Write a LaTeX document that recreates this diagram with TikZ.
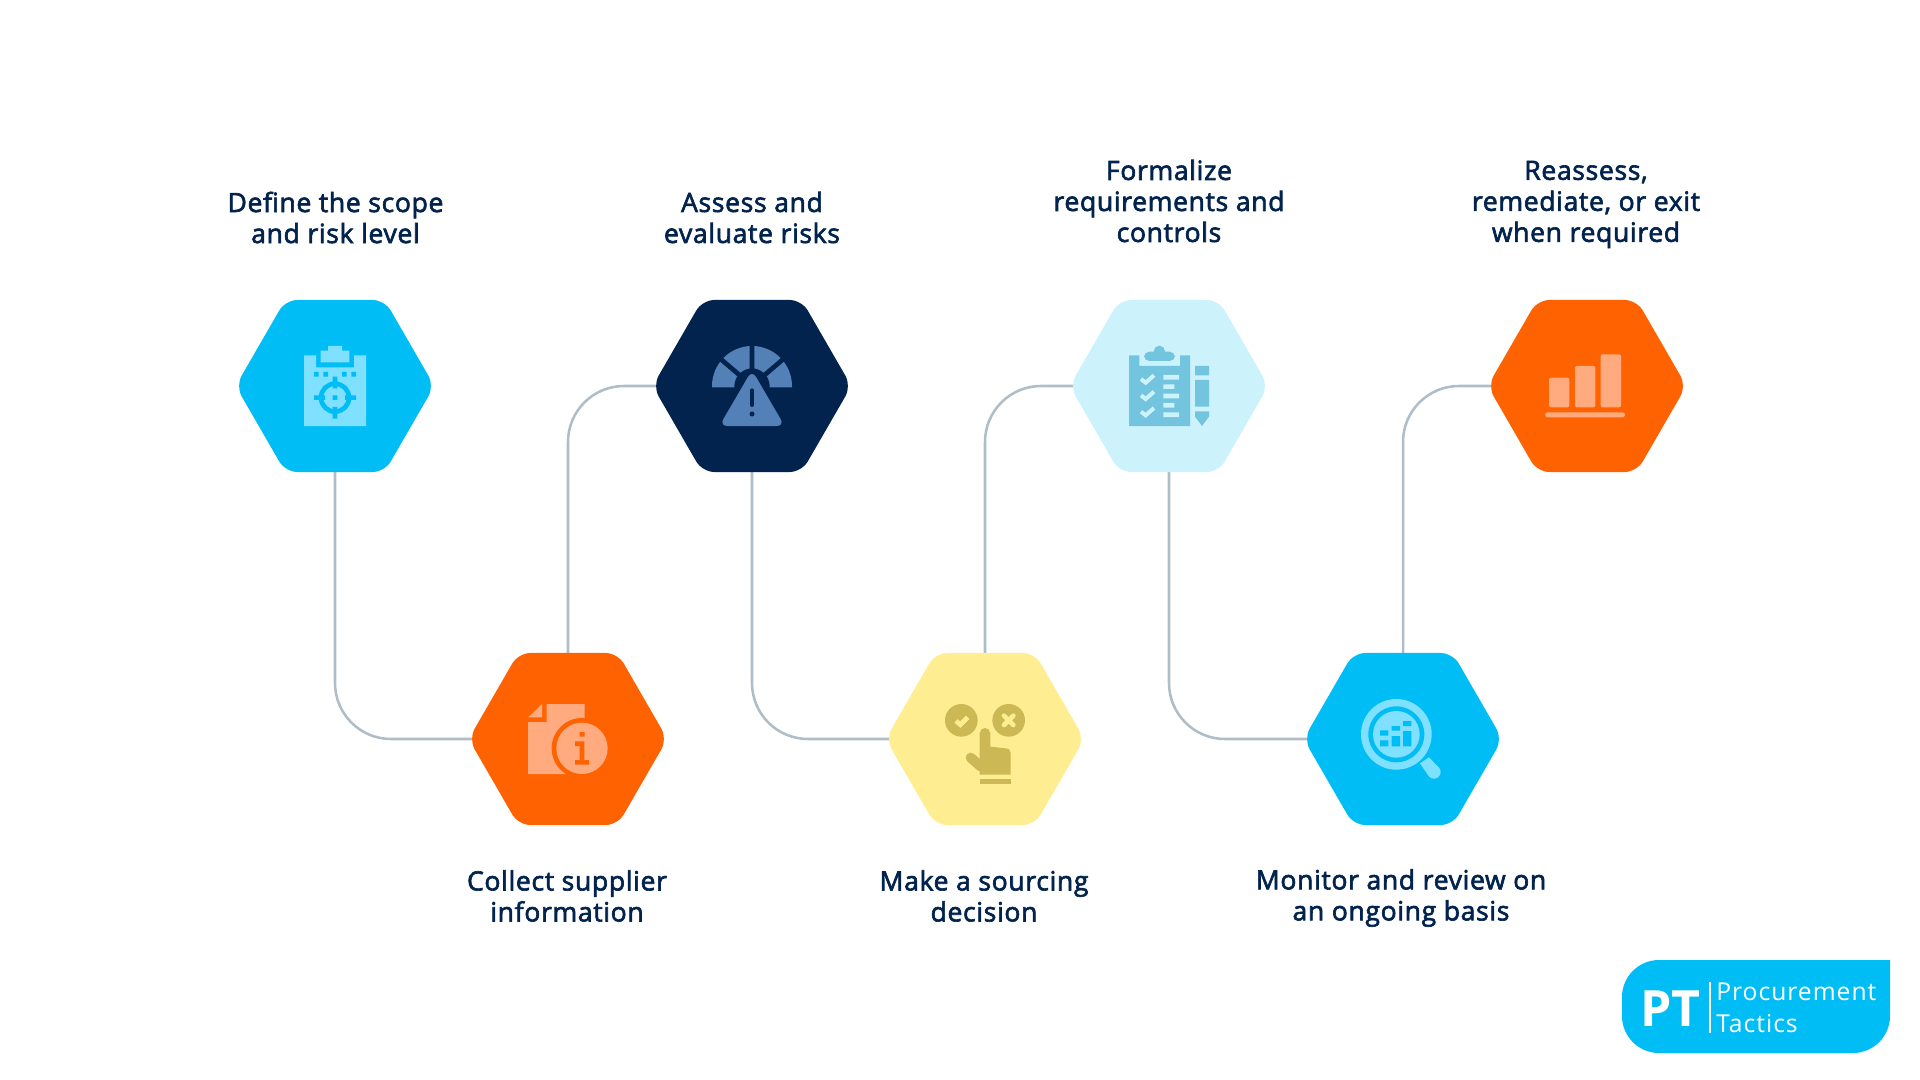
\documentclass[tikz,border=0pt]{standalone}
\usepackage{fontspec}
\setmainfont{Open Sans}
\newfontfamily\labelfont{Open Sans}[FakeBold=2.4,LetterSpace=2.5]
\newfontfamily\logofont{Open Sans}[LetterSpace=4]
\usepackage{xcolor}
\usetikzlibrary{shapes.geometric,backgrounds}
\definecolor{skyhex}{HTML}{00BEF5}
\definecolor{skyicon}{HTML}{80E0FF}
\definecolor{orangehex}{HTML}{FF6200}
\definecolor{orangeicon}{HTML}{FFAB7F}
\definecolor{navyhex}{HTML}{01234D}
\definecolor{navyicon}{HTML}{5480B8}
\definecolor{palehex}{HTML}{CCF2FC}
\definecolor{paleicon}{HTML}{73C4DE}
\definecolor{yellowhex}{HTML}{FFEE91}
\definecolor{yellowicon}{HTML}{CCB855}
\definecolor{linkgrey}{HTML}{AEBDC7}
\tikzset{
  hexa/.style={regular polygon,regular polygon sides=6,minimum size=149pt,inner sep=0pt,outer sep=0pt,rounded corners=9pt},
  steplabel/.style={font=\labelfont\fontsize{19.9pt}{23.25pt}\selectfont,text=navyhex,align=center,inner sep=0pt},
  logotext/.style={font=\logofont\fontsize{18.5pt}{18.5pt}\selectfont,text=white,anchor=base west,inner sep=0pt},
  link/.style={draw=linkgrey,line width=1.9pt,rounded corners=42pt},
  icon/.style={x=0.25pt,y=0.25pt}
}
\begin{document}
\begin{tikzpicture}[x=0.75pt,y=0.75pt,yscale=-1,xscale=1]
\useasboundingbox (0,0) rectangle (1920,1080);

%Shape: Hexagons
\node[hexa,fill=skyhex] (hex1) at (335,386) {};
\node[hexa,fill=orangehex] (hex2) at (568,739) {};
\node[hexa,fill=navyhex] (hex3) at (752,386) {};
\node[hexa,fill=yellowhex] (hex4) at (985,739) {};
\node[hexa,fill=palehex] (hex5) at (1169,386) {};
\node[hexa,fill=skyhex] (hex6) at (1403,739) {};
\node[hexa,fill=orangehex] (hex7) at (1587,386) {};

%Straight Lines
\begin{pgfonlayer}{background}
\draw[link] (hex1.center) |- (hex2.center);
\draw[link] (hex2.center) |- (hex3.center);
\draw[link] (hex3.center) |- (hex4.center);
\draw[link] (hex4.center) |- (hex5.center);
\draw[link] (hex5.center) |- (hex6.center);
\draw[link] (hex6.center) |- (hex7.center);
\end{pgfonlayer}

%Icon: clipboard with target
\begin{scope}[shift={(200,280)},icon]
\fill[skyicon] (312,226) -- (348,226) -- (348,262) -- (462,262) -- (462,226) -- (498,226) -- (498,438) -- (312,438) -- cycle;
\fill[skyicon] (384,198) -- (426,198) -- (426,212) -- (448,212) -- (448,247) -- (362,247) -- (362,212) -- (384,212) -- cycle;
\fill[skyhex] (342,276) rectangle (356,290) (370,276) rectangle (384,290) (426,276) rectangle (440,290) (454,276) rectangle (468,290);
\draw[skyhex,line width=3.5pt] (405,353) circle (42);
\fill[skyhex] (398,290) rectangle (412,325) (398,381) rectangle (412,416) (342,346) rectangle (375,360) (435,346) rectangle (468,360) (398,346) rectangle (412,360);
\end{scope}

%Icon: gauge with warning
\begin{scope}[shift={(640,280)},icon]
\fill[navyicon] (216,322) -- (216,318) arc[start angle=180,end angle=360,radius=120] -- (456,322) -- (389,322) -- (389,318) arc[start angle=360,end angle=180,radius=53] -- (283,322) -- cycle;
\draw[navyhex,line width=3.5pt] (336,318) -- (336,190) (297,284) -- (236,232) (375,284) -- (436,232);
\draw[navyhex,line width=7pt,rounded corners=6pt] (336,270) -- (434,438) -- (238,438) -- cycle;
\fill[navyicon,rounded corners=6pt] (336,270) -- (434,438) -- (238,438) -- cycle;
\draw[navyhex,line width=3.5pt,line cap=round] (336,332) -- (336,374);
\fill[navyhex] (336,402) circle (7.5);
\end{scope}

%Icon: checklist with pencil
\begin{scope}[shift={(1060,280)},icon]
\fill[paleicon] (207,226) -- (238,226) -- (238,258) -- (360,258) -- (360,226) -- (390,226) -- (390,438) -- (207,438) -- cycle;
\fill[paleicon,rounded corners=4pt] (252,243) -- (252,215) -- (345,215) -- (345,243) -- cycle;
\fill[paleicon] (298,214) circle (17);
\foreach \y in {298,347,396} {
  \draw[palehex,line width=3pt] (243,\y-1) -- (257,\y+10) -- (282,\y-12);
}
\fill[palehex] (310,285) rectangle (357,299) (310,313) rectangle (343,327) (310,341) rectangle (357,355) (310,369) rectangle (343,383) (310,397) rectangle (357,411);
\fill[paleicon] (405,258) rectangle (447,286) (405,300) rectangle (447,380);
\fill[paleicon] (405,394) -- (447,394) -- (447,410) -- (426,438) -- (405,410) -- cycle;
\end{scope}

%Icon: bar chart
\begin{scope}[shift={(1480,280)},icon]
\fill[orangeicon,rounded corners=1.5pt] (207,382) -- (207,293) -- (268,293) -- (268,382) -- cycle;
\fill[orangeicon,rounded corners=1.5pt] (285,382) -- (285,258) -- (346,258) -- (346,382) -- cycle;
\fill[orangeicon,rounded corners=1.5pt] (362,382) -- (362,223) -- (423,223) -- (423,382) -- cycle;
\fill[orangeicon,rounded corners=2pt] (195,397) rectangle (435,412);
\end{scope}

%Icon: document with info
\begin{scope}[shift={(460,640)},icon]
\fill[orangeicon] (205,232) -- (246,192) -- (246,232) -- cycle;
\fill[orangeicon] (260,192) -- (374,192) -- (374,300) -- (318,402) -- (204,402) -- (204,246) -- (260,246) -- cycle;
\fill[orangehex] (366,325) circle (91);
\fill[orangeicon] (366,325) circle (77);
\fill[orangehex] (359,276) rectangle (374,290) (345,304) rectangle (373,318) (359,304) rectangle (373,374) (345,360) rectangle (387,374);
\end{scope}

%Icon: hand choosing
\begin{scope}[shift={(880,640)},icon]
\fill[yellowicon] (244,241) circle (49) (386,241) circle (49);
\draw[yellowhex,line width=3.5pt] (228,243) -- (241,254) -- (263,232);
\draw[yellowhex,line width=3.5pt,line cap=round] (372,227) -- (400,255) (400,227) -- (372,255);
\fill[yellowicon] (299,280) arc[start angle=180,end angle=360,radius=16] -- (331,320) -- (378,325) .. controls (388,326) and (392,332) .. (392,340) -- (392,404) -- (299,404) -- cycle;
\draw[yellowicon,line width=7.5pt,line cap=round] (272,353) -- (303,380);
\fill[yellowicon] (299,418) rectangle (392,432);
\end{scope}

%Icon: magnifier with chart
\begin{scope}[shift={(1300,640)},icon]
\fill[skyicon] (289,283) circle (106);
\fill[skyhex] (289,283) circle (84);
\fill[skyicon] (289,283) circle (70);
\fill[skyhex] (240,271) rectangle (265,287) (240,301) rectangle (265,319) (275,258) rectangle (300,272) (275,288) rectangle (300,319) (309,243) rectangle (334,258) (309,273) rectangle (334,319);
\fill[skyicon] (360,370) -- (387,352) -- (416,382) -- (388,411) -- cycle;
\fill[skyicon] (402,396) circle (20);
\end{scope}

% Text Node
\node[steplabel] (lab1) at (335.5,217.5) {Define the scope\\and risk level};
\node[steplabel] (lab2) at (567,896) {Collect supplier\\information};
\node[steplabel] (lab3) at (752,217.5) {Assess and\\evaluate risks};
\node[steplabel] (lab4) at (984,896) {Make a sourcing\\decision};
\node[steplabel] (lab5) at (1169,201) {Formalize\\requirements and\\controls};
\node[steplabel] (lab6) at (1401,898) {Monitor and review on\\an ongoing basis};
\node[steplabel] (lab7) at (1586,204.5) {Reassess,\\remediate, or exit\\when required};

%Shape: Logo
\fill[skyhex] (1890,960) -- (1890,1016) arc[start angle=0,end angle=90,radius=37] -- (1659,1053) arc[start angle=90,end angle=180,radius=37] -- (1622,997) arc[start angle=180,end angle=270,radius=37] -- cycle;
\draw[white,line width=1pt] (1710,982) -- (1710,1033);
\node[font=\bfseries\fontsize{37.5pt}{37.5pt}\selectfont,text=white,anchor=base west,inner sep=0pt] (logopt) at (1640,1026) {PT};
\node[logotext] (logoname) at (1716,1000) {Procurement};
\node[logotext] (logotactics) at (1716,1032) {Tactics};

\end{tikzpicture}
\end{document}
